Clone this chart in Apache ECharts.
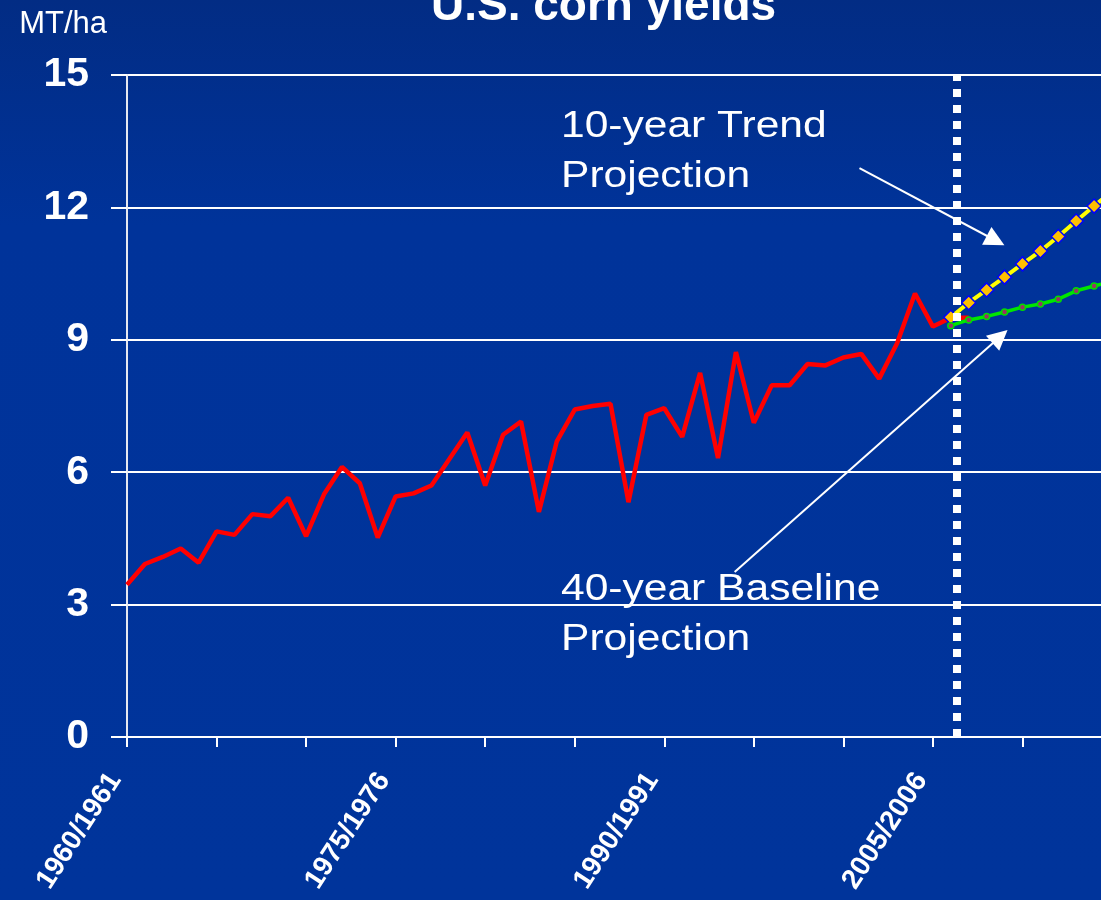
<!DOCTYPE html>
<html>
<head>
<meta http-equiv="Content-Type" content="text/html; charset=utf-8" />
<title>U.S. corn yields</title>
<style>
  body,
  html {
    padding: 0;
    margin: 0;
  }
</style>
</head>
<body>
<div id="container" style="width: 1101px; height: 900px"></div>
<script src="https://cdn.jsdelivr.net/npm/echarts@6/dist/echarts.min.js"></script>
<script>
  // historical yields, MT/ha
  var histYears = [1960, 1961, 1962, 1963, 1964, 1965, 1966, 1967, 1968, 1969,
    1970, 1971, 1972, 1973, 1974, 1975, 1976, 1977, 1978, 1979,
    1980, 1981, 1982, 1983, 1984, 1985, 1986, 1987, 1988, 1989,
    1990, 1991, 1992, 1993, 1994, 1995, 1996, 1997, 1998, 1999,
    2000, 2001, 2002, 2003, 2004, 2005, 2006, 2007];
  var histYield = [3.45, 3.92, 4.08, 4.27, 3.95, 4.66, 4.58, 5.05, 5.0, 5.42,
    4.55, 5.5, 6.12, 5.75, 4.52, 5.45, 5.52, 5.7, 6.3, 6.9,
    5.7, 6.85, 7.15, 5.1, 6.7, 7.42, 7.5, 7.55, 5.32, 7.3,
    7.45, 6.8, 8.25, 6.32, 8.72, 7.12, 7.97, 7.97, 8.45, 8.42,
    8.6, 8.68, 8.12, 8.92, 10.05, 9.3, 9.5, 9.5];

  // projections
  var projYears = [2006, 2007, 2008, 2009, 2010, 2011, 2012, 2013, 2014, 2015];
  var trend10 = [9.51, 9.84, 10.13, 10.42, 10.72, 11.01, 11.34, 11.69, 12.03, 12.37];
  var baseline40 = [9.32, 9.45, 9.53, 9.63, 9.74, 9.81, 9.92, 10.11, 10.22, 10.32];

  // x tick labels (every 15 years)
  var labelYears = [1960, 1975, 1990, 2005];
  var labelText = ['1960/1961', '1975/1976', '1990/1991', '2005/2006'];

  // annotation positions in data units [year, MT/ha]
  var dividerYear = 2006.35;
  var trendArrow = [[2000.9, 12.89], [2008.5, 11.25]];
  var baseArrow = [[1993.93, 3.74], [2008.75, 9.07]];

  var font = '"Liberation Sans", Arial, sans-serif';

  function pairs(xs, ys) {
    return xs.map(function (x, i) { return [x, ys[i]]; });
  }

  var chart = echarts.init(document.getElementById('container'));
  chart.setOption({
    animation: false,
    backgroundColor: {
      type: 'linear', x: 0, y: 0, x2: 0, y2: 1,
      colorStops: [
        { offset: 0, color: '#022c84' },
        { offset: 0.25, color: '#00339a' },
        { offset: 1, color: '#00349b' }
      ]
    },
    title: {
      text: 'U.S. corn yields',
      left: 426,
      top: -21,
      textStyle: { color: '#fff', fontSize: 46, fontWeight: 'bold', fontFamily: font }
    },
    grid: { left: 127, top: 75, right: -11, bottom: 163, outerBoundsMode: 'none' },
    xAxis: {
      type: 'value',
      min: 1960,
      max: 2015,
      interval: 5,
      splitLine: { show: false },
      axisLine: { lineStyle: { color: '#fff', width: 2 } },
      axisTick: { length: 10, lineStyle: { color: '#fff', width: 2 } },
      axisLabel: {
        color: '#fff',
        fontSize: 28,
        fontWeight: 'bold',
        fontFamily: font,
        rotate: 57,
        margin: 46,
        verticalAlign: 'bottom',
        showMaxLabel: false,
        formatter: function (v) {
          var i = labelYears.indexOf(v);
          return i < 0 ? '' : labelText[i];
        }
      }
    },
    yAxis: {
      type: 'value',
      min: 0,
      max: 15,
      interval: 3,
      name: 'MT/ha',
      nameLocation: 'end',
      nameGap: 51,
      nameTextStyle: {
        color: '#fff', fontSize: 31, fontFamily: font,
        align: 'right', verticalAlign: 'middle', padding: [0, 20, 0, 0]
      },
      axisLine: { show: true, lineStyle: { color: '#e6e8f0', width: 2 } },
      axisTick: { show: true, length: 16, lineStyle: { color: '#fff', width: 2 } },
      splitLine: { lineStyle: { color: '#fff', width: 2 } },
      axisLabel: { color: '#fff', fontSize: 41, fontWeight: 'bold', fontFamily: font, margin: 38 }
    },
    graphic: [{
      type: 'text',
      x: 561,
      y: 102,
      scaleX: 1.15,
      style: { text: '10-year Trend\nProjection', fill: '#fff', font: '37px ' + font, lineHeight: 50 }
    }, {
      type: 'text',
      x: 561,
      y: 565,
      scaleX: 1.15,
      style: { text: '40-year Baseline\nProjection', fill: '#fff', font: '37px ' + font, lineHeight: 50 }
    }],
    series: [{
      name: 'Actual',
      type: 'line',
      z: 2,
      data: pairs(histYears, histYield),
      showSymbol: false,
      symbol: 'none',
      lineStyle: { color: '#ff0000', width: 4.5 },
      markLine: {
        silent: true,
        symbol: 'none',
        label: { show: false },
        lineStyle: { color: '#fff', width: 8, type: [8, 8], cap: 'butt' },
        data: [{ xAxis: dividerYear }]
      }
    }, {
      name: '10-year Trend Projection',
      type: 'line',
      z: 3,
      data: pairs(projYears, trend10),
      symbol: 'diamond',
      symbolSize: 14,
      lineStyle: { color: '#ffff00', width: 4 },
      itemStyle: { color: '#ffc000', borderColor: '#0000ff', borderWidth: 1.5 }
    }, {
      name: '40-year Baseline Projection',
      type: 'line',
      z: 3,
      data: pairs(projYears, baseline40),
      symbol: 'circle',
      symbolSize: 6,
      lineStyle: { color: '#00e600', width: 3.5 },
      itemStyle: { color: '#993366', borderColor: '#00dd00', borderWidth: 1.5 },
      markLine: {
        silent: true,
        symbol: ['none', 'triangle'],
        symbolSize: 20,
        label: { show: false },
        lineStyle: { color: '#fff', width: 2, type: 'solid' },
        data: [
          [{ coord: trendArrow[0] }, { coord: trendArrow[1] }],
          [{ coord: baseArrow[0] }, { coord: baseArrow[1] }]
        ]
      }
    }]
  });
</script>
</body>
</html>
